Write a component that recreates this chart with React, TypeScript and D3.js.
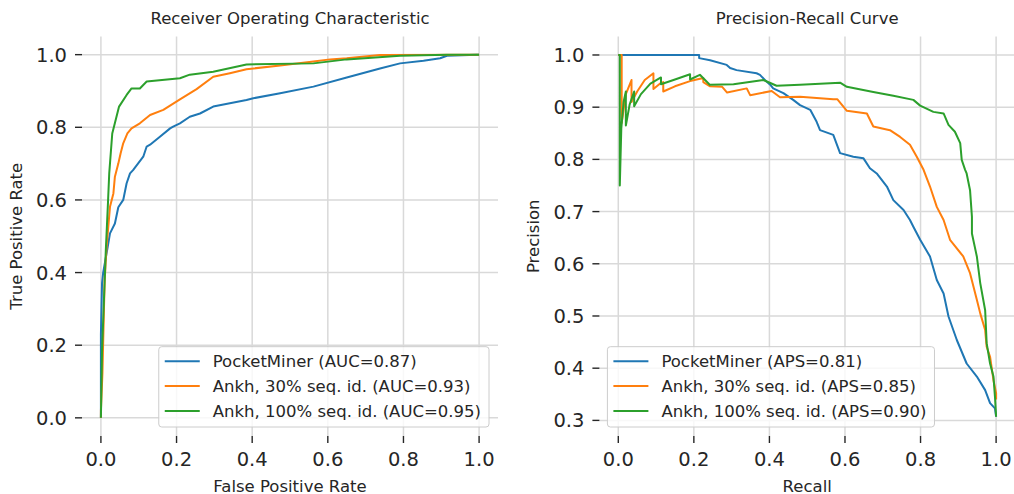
import React, { useEffect, useRef } from 'react';
import * as d3 from 'd3';

type Pt = [number, number];

const seriesNames = ['PocketMiner', 'Ankh, 30% seq. id.', 'Ankh, 100% seq. id.'];
const seriesColors = ['#1f77b4', '#ff7f0e', '#2ca02c'];
const aucScores = ['0.87', '0.93', '0.95'];
const apsScores = ['0.81', '0.85', '0.90'];

const rocTicks = [0, 0.2, 0.4, 0.6, 0.8, 1.0];
const recallTicks = [0, 0.2, 0.4, 0.6, 0.8, 1.0];
const precisionTicks = [0.3, 0.4, 0.5, 0.6, 0.7, 0.8, 0.9, 1.0];

// ROC curves: [fpr, tpr]
const rocPocketMiner: Pt[] = [
  [0, 0], [0, 0.05], [0, 0.23], [0.003, 0.371], [0.006, 0.4], [0.018, 0.471], [0.024, 0.508],
  [0.037, 0.535], [0.046, 0.58], [0.059, 0.6], [0.068, 0.646], [0.077, 0.673], [0.085, 0.682],
  [0.112, 0.719], [0.121, 0.747], [0.13, 0.752], [0.156, 0.774], [0.183, 0.797], [0.191, 0.802],
  [0.209, 0.811], [0.235, 0.829], [0.262, 0.838], [0.297, 0.857], [0.385, 0.875], [0.403, 0.88],
  [0.474, 0.894], [0.562, 0.912], [0.65, 0.937], [0.738, 0.962], [0.791, 0.976], [0.853, 0.983],
  [0.897, 0.99], [0.915, 0.997], [0.994, 1.0], [1, 1],
];
const rocAnkh30: Pt[] = [
  [0, 0], [0, 0.02], [0.004, 0.122], [0.008, 0.297], [0.01, 0.38], [0.015, 0.471], [0.024, 0.581],
  [0.033, 0.618], [0.037, 0.664], [0.046, 0.7], [0.052, 0.728], [0.059, 0.756], [0.07, 0.783],
  [0.081, 0.797], [0.103, 0.811], [0.13, 0.834], [0.165, 0.848], [0.209, 0.877], [0.253, 0.905],
  [0.297, 0.939], [0.341, 0.949], [0.385, 0.96], [0.474, 0.97], [0.562, 0.981], [0.606, 0.987],
  [0.65, 0.99], [0.738, 0.999], [1, 1],
];
const rocAnkh100: Pt[] = [
  [0, 0], [0.003, 0.186], [0.008, 0.324], [0.013, 0.462], [0.019, 0.6], [0.022, 0.673],
  [0.03, 0.783], [0.048, 0.857], [0.068, 0.889], [0.081, 0.907], [0.103, 0.907], [0.121, 0.926],
  [0.209, 0.935], [0.235, 0.945], [0.297, 0.953], [0.385, 0.973], [0.562, 0.976], [0.65, 0.987],
  [0.791, 0.997], [0.915, 1.0], [1, 1],
];

// PR curves: [recall, precision]
const prPocketMiner: Pt[] = [
  [0, 1], [0.214, 1], [0.214, 0.994], [0.243, 0.99], [0.287, 0.981], [0.296, 0.975], [0.313, 0.971],
  [0.366, 0.965], [0.375, 0.962], [0.388, 0.952], [0.402, 0.943], [0.41, 0.936], [0.437, 0.927],
  [0.463, 0.914], [0.481, 0.904], [0.508, 0.895], [0.525, 0.872], [0.534, 0.856], [0.569, 0.847],
  [0.587, 0.812], [0.622, 0.805], [0.649, 0.802], [0.666, 0.783], [0.684, 0.773], [0.711, 0.748],
  [0.728, 0.722], [0.755, 0.703], [0.772, 0.684], [0.781, 0.671], [0.799, 0.646], [0.825, 0.614],
  [0.843, 0.569], [0.861, 0.543], [0.874, 0.499], [0.896, 0.454], [0.922, 0.409], [0.949, 0.384],
  [0.971, 0.358], [0.984, 0.333], [0.997, 0.323], [1.0, 0.307],
];
const prAnkh30: Pt[] = [
  [0, 1], [0.009, 1], [0.009, 0.87], [0.02, 0.925], [0.035, 0.952], [0.035, 0.91], [0.05, 0.93],
  [0.07, 0.952], [0.093, 0.965], [0.093, 0.935], [0.11, 0.945], [0.119, 0.948], [0.119, 0.93],
  [0.15, 0.94], [0.19, 0.95], [0.225, 0.956], [0.225, 0.948], [0.243, 0.94], [0.275, 0.939],
  [0.288, 0.928], [0.34, 0.936], [0.349, 0.923], [0.406, 0.931], [0.428, 0.919], [0.481, 0.92],
  [0.569, 0.915], [0.58, 0.915], [0.605, 0.893], [0.658, 0.888], [0.675, 0.863], [0.719, 0.856],
  [0.746, 0.843], [0.772, 0.828], [0.79, 0.805], [0.808, 0.78], [0.825, 0.748], [0.843, 0.709],
  [0.861, 0.684], [0.878, 0.646], [0.913, 0.614], [0.931, 0.582], [0.949, 0.531], [0.958, 0.505],
  [0.971, 0.473], [0.975, 0.441], [0.984, 0.422], [0.993, 0.377], [1.0, 0.352], [1.0, 0.34],
];
const prAnkh100: Pt[] = [
  [0, 1], [0.004, 1], [0.004, 0.75], [0.008, 0.86], [0.014, 0.91], [0.02, 0.93], [0.02, 0.865],
  [0.03, 0.905], [0.042, 0.93], [0.042, 0.902], [0.06, 0.925], [0.085, 0.945], [0.113, 0.957],
  [0.113, 0.944], [0.15, 0.953], [0.19, 0.963], [0.19, 0.953], [0.21, 0.96], [0.216, 0.962],
  [0.242, 0.943], [0.305, 0.944], [0.384, 0.952], [0.419, 0.941], [0.481, 0.943], [0.587, 0.947],
  [0.605, 0.939], [0.675, 0.929], [0.728, 0.922], [0.781, 0.914], [0.799, 0.903], [0.834, 0.891],
  [0.861, 0.888], [0.874, 0.866], [0.891, 0.853], [0.905, 0.831], [0.909, 0.799], [0.918, 0.78],
  [0.922, 0.773], [0.931, 0.741], [0.936, 0.69], [0.936, 0.658], [0.949, 0.614], [0.958, 0.563],
  [0.971, 0.511], [0.975, 0.448], [0.984, 0.409], [0.993, 0.384], [0.997, 0.345], [1.0, 0.307],
];

const rocSeries = [rocPocketMiner, rocAnkh30, rocAnkh100];
const prSeries = [prPocketMiner, prAnkh30, prAnkh100];

const W = 1014;
const H = 494;
const FONT = '"DejaVu Sans", sans-serif';
const INK = '#262626';

interface PanelSpec {
  left: number;
  right: number;
  xDomain: [number, number];
  yDomain: [number, number];
  xTicks: number[];
  yTicks: number[];
  title: string;
  xLabel: string;
  yLabel: string;
  series: Pt[][];
  labels: string[];
  legendLoc: 'lower right' | 'lower left';
}

const top = 36.5;
const bottom = 436;

function drawPanel(svg: d3.Selection<SVGSVGElement, unknown, null, undefined>, p: PanelSpec) {
  const x = d3.scaleLinear().domain(p.xDomain).range([p.left, p.right]);
  const y = d3.scaleLinear().domain(p.yDomain).range([bottom, top]);
  const g = svg.append('g');

  // grid
  g.selectAll('line.vgrid').data(p.xTicks).join('line')
    .attr('x1', d => x(d)).attr('x2', d => x(d))
    .attr('y1', top).attr('y2', bottom)
    .attr('stroke', '#d9d9d9').attr('stroke-width', 1.5);
  g.selectAll('line.hgrid').data(p.yTicks).join('line')
    .attr('x1', p.left).attr('x2', p.right)
    .attr('y1', d => y(d)).attr('y2', d => y(d))
    .attr('stroke', '#d9d9d9').attr('stroke-width', 1.5);

  // ticks
  g.selectAll('line.xt').data(p.xTicks).join('line')
    .attr('x1', d => x(d)).attr('x2', d => x(d))
    .attr('y1', bottom).attr('y2', bottom + 7)
    .attr('stroke', INK).attr('stroke-width', 1.4);
  g.selectAll('text.xt').data(p.xTicks).join('text')
    .attr('x', d => x(d)).attr('y', 465.5)
    .attr('text-anchor', 'middle')
    .style('font', `19.5px ${FONT}`).attr('fill', INK)
    .text(d => d3.format('.1f')(d));
  g.selectAll('line.yt').data(p.yTicks).join('line')
    .attr('x1', p.left - 7).attr('x2', p.left)
    .attr('y1', d => y(d)).attr('y2', d => y(d))
    .attr('stroke', INK).attr('stroke-width', 1.4);
  g.selectAll('text.yt').data(p.yTicks).join('text')
    .attr('x', p.left - 15).attr('y', d => y(d) + 7)
    .attr('text-anchor', 'end')
    .style('font', `19.5px ${FONT}`).attr('fill', INK)
    .text(d => d3.format('.1f')(d));

  // curves
  const line = d3.line<Pt>().x(d => x(d[0])).y(d => y(d[1]));
  p.series.forEach((s, i) => {
    g.append('path').datum(s)
      .attr('fill', 'none')
      .attr('stroke', seriesColors[i])
      .attr('stroke-width', 2)
      .attr('stroke-linejoin', 'round')
      .attr('d', line);
  });

  // titles and labels
  const cx = (p.left + p.right) / 2;
  g.append('text').attr('x', cx).attr('y', 24.3).attr('text-anchor', 'middle')
    .style('font', `16.5px ${FONT}`).attr('fill', INK).text(p.title);
  g.append('text').attr('x', cx).attr('y', 491.5).attr('text-anchor', 'middle')
    .style('font', `16.5px ${FONT}`).attr('fill', INK).text(p.xLabel);
  g.append('text')
    .attr('transform', `translate(${p.left - 60},${(top + bottom) / 2}) rotate(-90)`)
    .attr('text-anchor', 'middle')
    .style('font', `16.5px ${FONT}`).attr('fill', INK).text(p.yLabel);

  // legend
  const lg = g.append('g');
  const box = lg.append('rect');
  const rowY = [361.3, 386, 411];
  let maxLen = 0;
  const texts = p.labels.map((lab, i) => {
    const t = lg.append('text').attr('y', rowY[i] + 6)
      .style('font', `16.5px ${FONT}`).attr('fill', INK).text(lab);
    maxLen = Math.max(maxLen, (t.node() as SVGTextElement).getComputedTextLength());
    return t;
  });
  const boxW = 54 + maxLen + 8;
  const boxX = p.legendLoc === 'lower right' ? p.right - 9 - boxW : p.left + 8;
  box.attr('x', boxX).attr('y', 346.7).attr('width', boxW).attr('height', 80.3)
    .attr('rx', 3).attr('fill', 'white').attr('fill-opacity', 0.8)
    .attr('stroke', '#cccccc').attr('stroke-width', 1);
  texts.forEach(t => t.attr('x', boxX + 54));
  p.labels.forEach((_, i) => {
    lg.append('line')
      .attr('x1', boxX + 6).attr('x2', boxX + 41)
      .attr('y1', rowY[i]).attr('y2', rowY[i])
      .attr('stroke', seriesColors[i]).attr('stroke-width', 2);
  });
  texts.forEach(t => t.raise());
}

const App: React.FC = () => {
  const svgRef = useRef<SVGSVGElement | null>(null);

  useEffect(() => {
    if (!svgRef.current) return;
    const svg = d3.select(svgRef.current);
    svg.selectAll('*').remove();

    drawPanel(svg, {
      left: 82, right: 498,
      xDomain: [-0.05, 1.05], yDomain: [-0.05, 1.05],
      xTicks: rocTicks, yTicks: rocTicks,
      title: 'Receiver Operating Characteristic',
      xLabel: 'False Positive Rate', yLabel: 'True Positive Rate',
      series: rocSeries,
      labels: seriesNames.map((n, i) => `${n} (AUC=${aucScores[i]})`),
      legendLoc: 'lower right',
    });
    drawPanel(svg, {
      left: 599.4, right: 1015,
      xDomain: [-0.05, 1.05], yDomain: [0.2701, 1.0354],
      xTicks: recallTicks, yTicks: precisionTicks,
      title: 'Precision-Recall Curve',
      xLabel: 'Recall', yLabel: 'Precision',
      series: prSeries,
      labels: seriesNames.map((n, i) => `${n} (APS=${apsScores[i]})`),
      legendLoc: 'lower left',
    });
  }, []);

  return (
    <svg ref={svgRef} width={W} height={H}
      style={{ position: 'absolute', left: 0, top: 0, background: 'white' }} />
  );
};

export default App;
